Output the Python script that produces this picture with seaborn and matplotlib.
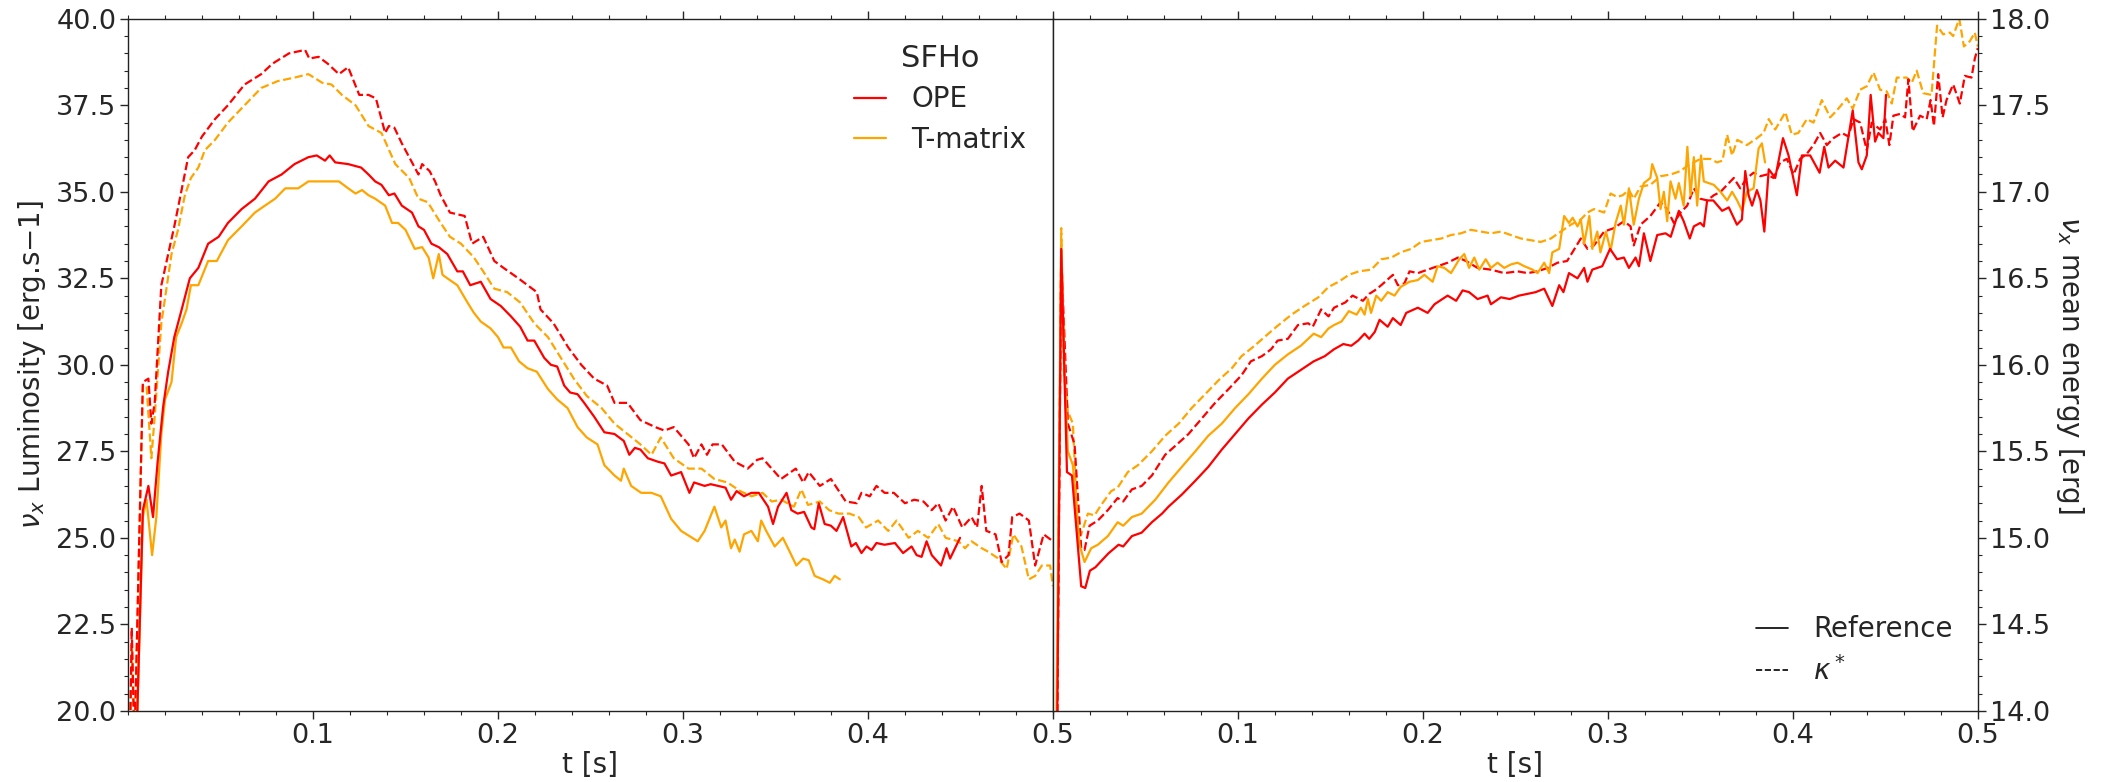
import numpy as np
import pandas as pd
import matplotlib
matplotlib.use("Agg")
import matplotlib.pyplot as plt
from matplotlib.lines import Line2D
from matplotlib.ticker import AutoMinorLocator, FixedLocator
import seaborn as sns

# ---------------- data: left panel (luminosity) ----------------
lum_ope_kappa_t = [0.001, 0.002, 0.0035, 0.008, 0.011, 0.0126, 0.0144, 0.018, 0.0217, 0.025, 0.0325, 0.036, 0.040, 0.047, 0.054, 0.063, 0.072, 0.078, 0.087, 0.0957, 0.098, 0.103, 0.108, 0.114, 0.119, 0.125, 0.130, 0.134, 0.139, 0.141, 0.144, 0.148, 0.152, 0.157, 0.159, 0.163, 0.166, 0.169, 0.174, 0.182, 0.186, 0.192, 0.198, 0.203, 0.211, 0.216, 0.221, 0.223, 0.230, 0.238, 0.245, 0.252, 0.259, 0.263, 0.270, 0.277, 0.285, 0.290, 0.295, 0.303, 0.306, 0.310, 0.313, 0.316, 0.321, 0.328, 0.335, 0.340, 0.343, 0.348, 0.353, 0.361, 0.365, 0.368, 0.374, 0.380, 0.388, 0.394, 0.3965, 0.401, 0.4046, 0.409, 0.414, 0.420, 0.425, 0.430, 0.4345, 0.438, 0.442, 0.446, 0.451, 0.456, 0.459, 0.4615, 0.464, 0.469, 0.4723, 0.476, 0.478, 0.482, 0.487, 0.4904, 0.495, 0.500]
lum_ope_kappa = [19.0, 22.4, 19.0, 29.5, 29.6, 28.3, 28.9, 32.3, 33.2, 34.0, 36.0, 36.2, 36.6, 37.1, 37.5, 38.1, 38.4, 38.7, 39.0, 39.1, 38.85, 38.9, 38.7, 38.4, 38.6, 37.8, 37.8, 37.7, 36.7, 36.9, 36.85, 36.4, 36.0, 35.5, 35.8, 35.6, 35.3, 34.9, 34.4, 34.3, 33.5, 33.7, 33.0, 32.8, 32.5, 32.3, 32.1, 31.6, 31.2, 30.5, 30.0, 29.6, 29.4, 28.9, 28.9, 28.4, 28.2, 28.1, 28.2, 27.7, 27.3, 27.7, 27.4, 27.7, 27.7, 27.2, 27.0, 27.25, 27.3, 27.0, 26.7, 27.0, 26.6, 26.9, 26.5, 26.7, 26.05, 26.0, 26.3, 26.2, 26.5, 26.3, 26.3, 26.0, 26.1, 26.05, 25.8, 26.0, 25.5, 25.9, 25.3, 25.6, 25.3, 26.5, 25.2, 25.1, 24.3, 24.5, 25.6, 25.7, 25.5, 24.2, 25.1, 24.9]

lum_tm_kappa_t = [0.001, 0.002, 0.0035, 0.008, 0.010, 0.0126, 0.0144, 0.018, 0.0235, 0.027, 0.0307, 0.034, 0.038, 0.0415, 0.047, 0.054, 0.063, 0.072, 0.081, 0.090, 0.0975, 0.105, 0.110, 0.1156, 0.123, 0.130, 0.137, 0.1445, 0.152, 0.157, 0.162, 0.169, 0.174, 0.180, 0.187, 0.192, 0.198, 0.205, 0.212, 0.2196, 0.227, 0.234, 0.241, 0.248, 0.256, 0.263, 0.270, 0.277, 0.283, 0.288, 0.295, 0.303, 0.310, 0.317, 0.324, 0.331, 0.337, 0.343, 0.348, 0.353, 0.360, 0.364, 0.3676, 0.374, 0.379, 0.384, 0.390, 0.395, 0.399, 0.4055, 0.411, 0.4155, 0.422, 0.427, 0.4326, 0.438, 0.442, 0.449, 0.4525, 0.456, 0.4615, 0.465, 0.4705, 0.475, 0.4786, 0.483, 0.487, 0.4904, 0.494, 0.4985, 0.500]
lum_tm_kappa = [19.0, 21.9, 19.0, 29.4, 29.4, 27.3, 28.5, 31.2, 33.2, 33.9, 34.9, 35.4, 35.7, 36.2, 36.5, 37.0, 37.5, 38.0, 38.2, 38.3, 38.4, 38.15, 38.1, 37.8, 37.5, 36.9, 36.7, 35.8, 35.4, 34.8, 34.7, 34.1, 33.7, 33.5, 33.1, 32.7, 32.2, 32.1, 31.8, 31.2, 30.8, 30.2, 29.6, 29.1, 28.75, 28.3, 28.0, 27.7, 27.4, 27.9, 27.3, 27.0, 27.0, 26.7, 26.6, 26.35, 26.2, 26.3, 26.05, 26.1, 25.9, 26.4, 25.95, 26.05, 25.8, 25.7, 25.7, 25.6, 25.3, 25.5, 25.2, 25.5, 25.0, 25.2, 25.0, 25.4, 25.0, 24.9, 24.7, 24.9, 24.7, 24.6, 24.4, 24.1, 25.1, 24.75, 23.8, 23.9, 24.2, 24.2, 23.6]

lum_ope_ref_t = [0.004, 0.008, 0.011, 0.0135, 0.016, 0.019, 0.0217, 0.025, 0.029, 0.0334, 0.038, 0.0433, 0.049, 0.054, 0.0614, 0.0686, 0.076, 0.083, 0.090, 0.0975, 0.102, 0.1065, 0.109, 0.112, 0.119, 0.126, 0.130, 0.1336, 0.137, 0.141, 0.144, 0.148, 0.1535, 0.157, 0.160, 0.164, 0.168, 0.1726, 0.178, 0.181, 0.185, 0.1907, 0.196, 0.2015, 0.207, 0.212, 0.216, 0.2196, 0.225, 0.2286, 0.232, 0.2358, 0.239, 0.243, 0.2466, 0.252, 0.2575, 0.263, 0.268, 0.271, 0.274, 0.277, 0.281, 0.2864, 0.290, 0.2936, 0.299, 0.3035, 0.306, 0.3117, 0.315, 0.319, 0.323, 0.326, 0.329, 0.333, 0.337, 0.341, 0.346, 0.3487, 0.3514, 0.356, 0.3586, 0.362, 0.3655, 0.3694, 0.371, 0.3734, 0.3766, 0.380, 0.383, 0.3866, 0.391, 0.3935, 0.3965, 0.3992, 0.402, 0.4046, 0.409, 0.4146, 0.419, 0.4236, 0.4263, 0.429, 0.4317, 0.4345, 0.4395, 0.4425, 0.4444, 0.4498]
lum_ope_ref = [18.0, 25.8, 26.5, 25.6, 27.2, 28.8, 29.8, 30.8, 31.6, 32.5, 32.8, 33.5, 33.7, 34.1, 34.5, 34.8, 35.3, 35.5, 35.8, 36.0, 36.05, 35.9, 36.05, 35.85, 35.8, 35.7, 35.5, 35.3, 35.2, 34.9, 34.95, 34.6, 34.4, 34.0, 33.9, 33.5, 33.4, 33.2, 32.7, 32.7, 32.3, 32.4, 31.9, 31.7, 31.4, 31.1, 30.7, 30.7, 30.2, 30.0, 29.95, 29.4, 29.2, 29.15, 28.9, 28.5, 28.05, 28.0, 27.8, 27.4, 27.6, 27.55, 27.3, 27.2, 27.15, 26.8, 26.9, 26.3, 26.6, 26.5, 26.55, 26.5, 26.45, 26.1, 26.35, 26.2, 26.3, 26.3, 25.9, 25.4, 25.9, 26.3, 25.8, 25.7, 25.75, 25.3, 25.25, 26.0, 25.4, 25.35, 25.2, 25.6, 24.75, 24.85, 24.56, 24.75, 24.65, 24.85, 24.8, 24.85, 24.56, 24.75, 24.5, 24.45, 24.9, 24.5, 24.2, 24.7, 24.4, 25.0]

lum_tm_ref_t = [0.004, 0.008, 0.010, 0.013, 0.0153, 0.018, 0.020, 0.0235, 0.026, 0.029, 0.0316, 0.034, 0.038, 0.0433, 0.048, 0.054, 0.0614, 0.0686, 0.074, 0.0795, 0.085, 0.092, 0.0975, 0.103, 0.108, 0.114, 0.119, 0.123, 0.1265, 0.130, 0.1336, 0.139, 0.1427, 0.146, 0.150, 0.155, 0.159, 0.1625, 0.165, 0.168, 0.170, 0.1726, 0.178, 0.1835, 0.187, 0.1907, 0.196, 0.200, 0.203, 0.207, 0.2114, 0.216, 0.221, 0.227, 0.232, 0.2376, 0.243, 0.248, 0.2538, 0.2575, 0.263, 0.2665, 0.268, 0.272, 0.2774, 0.283, 0.288, 0.2936, 0.299, 0.3035, 0.308, 0.3117, 0.317, 0.3207, 0.323, 0.326, 0.328, 0.3306, 0.333, 0.337, 0.3405, 0.3423, 0.345, 0.3496, 0.354, 0.3577, 0.3613, 0.365, 0.368, 0.3712, 0.3757, 0.3794, 0.382, 0.3848]
lum_tm_ref = [18.0, 25.6, 26.1, 24.5, 25.6, 28.0, 29.0, 29.5, 30.8, 31.2, 31.6, 32.3, 32.3, 33.0, 33.0, 33.6, 34.0, 34.4, 34.6, 34.8, 35.1, 35.1, 35.3, 35.3, 35.3, 35.3, 35.1, 34.95, 35.05, 34.9, 34.8, 34.6, 34.1, 34.1, 33.9, 33.35, 33.4, 33.1, 32.5, 33.2, 32.6, 32.5, 32.3, 31.8, 31.5, 31.25, 31.05, 30.8, 30.5, 30.5, 30.1, 29.9, 29.8, 29.3, 29.0, 28.75, 28.2, 27.9, 27.7, 27.1, 26.8, 26.65, 27.0, 26.5, 26.3, 26.3, 26.2, 25.55, 25.2, 25.05, 24.9, 25.2, 25.9, 25.3, 25.5, 24.7, 24.95, 24.6, 25.1, 25.2, 24.9, 25.5, 25.2, 24.75, 25.0, 24.6, 24.2, 24.4, 24.35, 23.9, 23.8, 23.7, 23.9, 23.8]

# ---------------- data: right panel (mean energy) ----------------
en_ope_ref_t = [0.002, 0.0045, 0.0076, 0.0103, 0.0153, 0.0175, 0.020, 0.023, 0.0256, 0.030, 0.0355, 0.038, 0.0427, 0.048, 0.0535, 0.059, 0.0625, 0.0697, 0.077, 0.084, 0.0913, 0.0985, 0.1057, 0.113, 0.120, 0.127, 0.134, 0.141, 0.147, 0.152, 0.157, 0.1613, 0.165, 0.1685, 0.171, 0.174, 0.1766, 0.181, 0.1838, 0.188, 0.191, 0.1973, 0.2026, 0.2063, 0.2134, 0.218, 0.2215, 0.225, 0.2296, 0.235, 0.2368, 0.2422, 0.247, 0.252, 0.2566, 0.261, 0.2656, 0.2700, 0.2737, 0.276, 0.279, 0.2836, 0.2872, 0.289, 0.2916, 0.297, 0.3012, 0.305, 0.3087, 0.3114, 0.315, 0.3168, 0.3195, 0.323, 0.3267, 0.3312, 0.334, 0.3384, 0.341, 0.3443, 0.3465, 0.350, 0.3519, 0.3537, 0.357, 0.3618, 0.3654, 0.3698, 0.3725, 0.3743, 0.3761, 0.378, 0.3806, 0.3825, 0.3846, 0.387, 0.3905, 0.3947, 0.3977, 0.4022, 0.4049, 0.4094, 0.4145, 0.417, 0.4193, 0.4229, 0.4274, 0.4324, 0.4355, 0.4373, 0.440, 0.4421, 0.4445, 0.4463, 0.449, 0.4504]
en_ope_ref = [13.5, 16.67, 15.38, 15.36, 14.72, 14.71, 14.81, 14.83, 14.86, 14.91, 14.96, 14.95, 15.01, 15.03, 15.09, 15.14, 15.18, 15.25, 15.33, 15.41, 15.51, 15.60, 15.69, 15.77, 15.84, 15.92, 15.97, 16.02, 16.05, 16.09, 16.12, 16.11, 16.14, 16.18, 16.15, 16.19, 16.26, 16.22, 16.27, 16.23, 16.30, 16.33, 16.30, 16.35, 16.40, 16.37, 16.43, 16.42, 16.38, 16.40, 16.35, 16.39, 16.38, 16.40, 16.41, 16.42, 16.44, 16.34, 16.46, 16.42, 16.53, 16.50, 16.56, 16.48, 16.55, 16.57, 16.67, 16.61, 16.62, 16.56, 16.62, 16.57, 16.76, 16.60, 16.75, 16.76, 16.74, 16.89, 16.83, 16.73, 16.80, 16.82, 16.80, 16.95, 16.95, 16.89, 16.91, 16.81, 16.84, 17.12, 16.98, 16.92, 17.01, 16.95, 16.77, 17.13, 17.08, 17.31, 17.21, 16.98, 17.21, 17.21, 17.11, 17.26, 17.14, 17.18, 17.14, 17.47, 17.17, 17.13, 17.21, 17.56, 17.29, 17.34, 17.31, 17.56]

en_ope_kappa_t = [0.002, 0.0045, 0.0081, 0.0117, 0.0153, 0.0171, 0.0198, 0.0243, 0.0297, 0.035, 0.038, 0.0427, 0.048, 0.0535, 0.0607, 0.066, 0.0733, 0.0805, 0.0877, 0.095, 0.102, 0.107, 0.113, 0.118, 0.1215, 0.127, 0.1325, 0.138, 0.1405, 0.145, 0.149, 0.152, 0.158, 0.162, 0.1676, 0.171, 0.174, 0.1775, 0.1838, 0.1865, 0.190, 0.1928, 0.1973, 0.2026, 0.208, 0.2134, 0.219, 0.2233, 0.2296, 0.2368, 0.244, 0.2512, 0.2566, 0.262, 0.2674, 0.2728, 0.278, 0.2854, 0.289, 0.2925, 0.298, 0.3033, 0.3087, 0.3123, 0.314, 0.3177, 0.323, 0.3285, 0.332, 0.3357, 0.3393, 0.3429, 0.3465, 0.350, 0.3537, 0.3573, 0.361, 0.3645, 0.3681, 0.3716, 0.3752, 0.3788, 0.3824, 0.386, 0.3896, 0.3932, 0.3968, 0.4004, 0.404, 0.4076, 0.4112, 0.4148, 0.4184, 0.422, 0.4265, 0.430, 0.4328, 0.4364, 0.440, 0.4427, 0.4472, 0.450, 0.4522, 0.4544, 0.458, 0.4607, 0.4625, 0.4648, 0.4688, 0.4724, 0.4745, 0.4763, 0.4786, 0.481, 0.4831, 0.4867, 0.4903, 0.493, 0.4966, 0.4984, 0.500]
en_ope_kappa = [13.5, 16.63, 15.66, 15.54, 14.94, 14.93, 15.07, 15.10, 15.16, 15.23, 15.21, 15.28, 15.30, 15.36, 15.48, 15.53, 15.60, 15.69, 15.78, 15.86, 15.94, 16.02, 16.05, 16.09, 16.14, 16.15, 16.23, 16.24, 16.22, 16.32, 16.28, 16.33, 16.36, 16.40, 16.37, 16.41, 16.43, 16.46, 16.52, 16.46, 16.47, 16.54, 16.53, 16.55, 16.57, 16.59, 16.62, 16.60, 16.56, 16.55, 16.53, 16.54, 16.53, 16.54, 16.56, 16.59, 16.60, 16.73, 16.67, 16.69, 16.77, 16.79, 16.83, 16.80, 16.69, 16.81, 16.86, 16.94, 16.90, 16.82, 16.88, 16.92, 17.02, 16.96, 16.95, 16.98, 17.00, 17.04, 17.08, 17.02, 17.08, 17.11, 17.09, 17.10, 17.08, 17.17, 17.19, 17.10, 17.19, 17.22, 17.27, 17.34, 17.27, 17.31, 17.34, 17.32, 17.42, 17.40, 17.24, 17.40, 17.36, 17.42, 17.27, 17.44, 17.45, 17.43, 17.65, 17.35, 17.44, 17.42, 17.53, 17.38, 17.68, 17.43, 17.53, 17.62, 17.51, 17.67, 17.66, 17.77, 17.83]

en_tm_ref_t = [0.0015, 0.0045, 0.0063, 0.0081, 0.0108, 0.0144, 0.0171, 0.0207, 0.0243, 0.0297, 0.035, 0.038, 0.0427, 0.048, 0.0553, 0.0625, 0.0697, 0.077, 0.084, 0.0913, 0.0985, 0.1057, 0.113, 0.120, 0.127, 0.134, 0.141, 0.145, 0.149, 0.152, 0.156, 0.160, 0.1642, 0.1665, 0.1685, 0.1703, 0.172, 0.1748, 0.1775, 0.181, 0.1847, 0.188, 0.1928, 0.1973, 0.2008, 0.2053, 0.208, 0.2116, 0.2152, 0.2197, 0.2224, 0.225, 0.2278, 0.2305, 0.234, 0.2368, 0.2404, 0.244, 0.2476, 0.2512, 0.2548, 0.2593, 0.262, 0.2656, 0.2683, 0.270, 0.2737, 0.2764, 0.279, 0.281, 0.2836, 0.2854, 0.2872, 0.290, 0.2916, 0.2943, 0.296, 0.299, 0.3015, 0.3042, 0.307, 0.3087, 0.3114, 0.314, 0.3168, 0.3195, 0.323, 0.324, 0.3267, 0.3285, 0.3303, 0.3321, 0.3339, 0.3366, 0.3384, 0.341, 0.343, 0.3447, 0.3465, 0.3483, 0.3504, 0.3519, 0.3573, 0.3609, 0.3645, 0.3672, 0.3699, 0.3726, 0.3752, 0.3788, 0.3815, 0.3833, 0.385]
en_tm_ref = [13.5, 16.72, 15.95, 15.50, 15.42, 14.96, 14.86, 14.94, 14.96, 15.01, 15.09, 15.07, 15.12, 15.14, 15.22, 15.32, 15.41, 15.50, 15.59, 15.66, 15.75, 15.83, 15.92, 16.00, 16.06, 16.11, 16.18, 16.16, 16.21, 16.23, 16.25, 16.31, 16.29, 16.33, 16.29, 16.38, 16.30, 16.40, 16.37, 16.42, 16.40, 16.45, 16.48, 16.49, 16.52, 16.48, 16.57, 16.56, 16.53, 16.61, 16.64, 16.56, 16.62, 16.55, 16.61, 16.56, 16.59, 16.56, 16.58, 16.59, 16.57, 16.55, 16.53, 16.59, 16.53, 16.65, 16.67, 16.86, 16.82, 16.85, 16.80, 16.84, 16.70, 16.86, 16.67, 16.77, 16.65, 16.77, 16.66, 16.82, 16.92, 16.81, 17.02, 16.81, 16.96, 17.05, 17.08, 17.16, 17.08, 16.90, 17.00, 16.83, 17.06, 16.96, 17.05, 16.92, 17.26, 16.98, 17.20, 16.92, 17.21, 17.06, 17.04, 17.00, 16.95, 17.00, 16.95, 16.89, 17.00, 17.02, 17.25, 17.28, 17.17]

en_tm_kappa_t = [0.002, 0.0045, 0.006, 0.0081, 0.0108, 0.0135, 0.0153, 0.0189, 0.0225, 0.0261, 0.0315, 0.035, 0.0405, 0.046, 0.0535, 0.0607, 0.068, 0.075, 0.0823, 0.0895, 0.0967, 0.102, 0.109, 0.1165, 0.122, 0.129, 0.136, 0.1435, 0.149, 0.1545, 0.160, 0.1653, 0.1721, 0.1775, 0.183, 0.188, 0.1937, 0.199, 0.2045, 0.210, 0.2152, 0.2206, 0.226, 0.2314, 0.2368, 0.2422, 0.2476, 0.253, 0.2584, 0.2638, 0.2692, 0.2746, 0.280, 0.2854, 0.289, 0.2925, 0.298, 0.3015, 0.305, 0.308, 0.3114, 0.314, 0.3177, 0.323, 0.3285, 0.334, 0.3393, 0.343, 0.3465, 0.350, 0.3555, 0.359, 0.362, 0.3645, 0.3672, 0.370, 0.3752, 0.3806, 0.3842, 0.387, 0.3905, 0.396, 0.3995, 0.403, 0.4076, 0.4112, 0.4157, 0.4202, 0.4238, 0.4292, 0.4324, 0.4364, 0.440, 0.4436, 0.4472, 0.4508, 0.4535, 0.4562, 0.4616, 0.4643, 0.467, 0.4705, 0.475, 0.478, 0.4813, 0.4849, 0.4867, 0.490, 0.4925, 0.4957, 0.4984, 0.500]
en_tm_kappa = [13.5, 16.79, 15.95, 15.73, 15.66, 15.03, 15.02, 15.14, 15.13, 15.19, 15.27, 15.29, 15.38, 15.42, 15.50, 15.59, 15.66, 15.75, 15.83, 15.91, 15.98, 16.05, 16.11, 16.18, 16.23, 16.29, 16.34, 16.39, 16.45, 16.48, 16.52, 16.54, 16.55, 16.61, 16.62, 16.65, 16.67, 16.71, 16.72, 16.73, 16.75, 16.76, 16.78, 16.77, 16.76, 16.77, 16.75, 16.73, 16.72, 16.71, 16.73, 16.77, 16.81, 16.84, 16.88, 16.90, 16.88, 16.99, 16.97, 16.98, 17.01, 16.96, 17.03, 17.04, 17.09, 17.10, 17.12, 17.15, 17.17, 17.19, 17.19, 17.17, 17.18, 17.33, 17.21, 17.30, 17.27, 17.31, 17.34, 17.42, 17.36, 17.46, 17.33, 17.34, 17.42, 17.40, 17.53, 17.43, 17.47, 17.54, 17.48, 17.59, 17.61, 17.69, 17.59, 17.58, 17.51, 17.66, 17.66, 17.63, 17.70, 17.57, 17.56, 17.96, 17.91, 17.92, 17.90, 18.0, 17.84, 17.87, 17.92, 17.84]

x_ticks = [0.1, 0.2, 0.3, 0.4, 0.5]
x_ticklabels = ["0.1", "0.2", "0.3", "0.4", "0.5"]
lum_ticks = [20, 22.5, 25, 27.5, 30, 32.5, 35, 37.5, 40]
en_ticks = [14, 14.5, 15, 15.5, 16, 16.5, 17, 17.5, 18]
eos_names = ["OPE", "T-matrix"]
method_names = ["Reference", r"$\kappa^*$"]

# ---------------- style ----------------
sns.set_style("ticks")
plt.rcParams["font.family"] = ["DejaVu Sans"]
plt.rcParams["mathtext.fontset"] = "dejavusans"
FS_TICK = 19.5
FS_LAB = 20
FS_LEG = 20
colors = {"OPE": "red", "T-matrix": "orange"}
LW = 1.6

fig, (axL, axR) = plt.subplots(1, 2, figsize=(21.13, 7.82), dpi=100)
fig.subplots_adjust(left=0.0606, right=0.936, top=0.976, bottom=0.091, wspace=0)

def draw(ax, t, v, color, ls):
    df = pd.DataFrame({"t": t, "v": v})
    sns.lineplot(data=df, x="t", y="v", ax=ax, color=color, linestyle=ls,
                 linewidth=LW, sort=False, estimator=None, legend=False)

draw(axL, lum_tm_kappa_t, lum_tm_kappa, colors["T-matrix"], "--")
draw(axL, lum_ope_kappa_t, lum_ope_kappa, colors["OPE"], "--")
draw(axL, lum_tm_ref_t, lum_tm_ref, colors["T-matrix"], "-")
draw(axL, lum_ope_ref_t, lum_ope_ref, colors["OPE"], "-")

draw(axR, en_tm_kappa_t, en_tm_kappa, colors["T-matrix"], "--")
draw(axR, en_ope_kappa_t, en_ope_kappa, colors["OPE"], "--")
draw(axR, en_tm_ref_t, en_tm_ref, colors["T-matrix"], "-")
draw(axR, en_ope_ref_t, en_ope_ref, colors["OPE"], "-")

for ax in (axL, axR):
    ax.set_xlim(0, 0.5)
    ax.xaxis.set_major_locator(FixedLocator(x_ticks))
    ax.set_xticklabels(x_ticklabels)
    ax.xaxis.set_minor_locator(AutoMinorLocator(5))
    ax.set_xlabel("t [s]", fontsize=FS_LAB, labelpad=2)
    ax.tick_params(axis="both", which="major", labelsize=FS_TICK, length=5.5, width=1, direction="out", pad=3)
    ax.tick_params(axis="both", which="minor", length=2.8, width=0.8, direction="out")
    ax.tick_params(axis="x", which="both", top=True)
    for s in ax.spines.values():
        s.set_visible(True)
        s.set_linewidth(1.0)
        s.set_color("#222222")

axL.set_ylim(20, 40)
axL.set_yticks(lum_ticks)
axL.set_yticklabels([f"{v:.1f}" for v in lum_ticks])
axL.yaxis.set_minor_locator(AutoMinorLocator(5))
axL.tick_params(axis="y", which="both", left=True, right=False)
axL.set_ylabel(r"$\nu_x$ Luminosity [erg.s$-$1]", fontsize=FS_LAB, labelpad=6)

axR.set_ylim(14, 18)
axR.set_yticks(en_ticks)
axR.set_yticklabels([f"{v:.1f}" for v in en_ticks])
axR.yaxis.set_minor_locator(AutoMinorLocator(5))
axR.yaxis.tick_right()
axR.yaxis.set_label_position("right")
axR.tick_params(axis="y", which="both", left=False, right=True)
axR.set_ylabel(r"$\nu_x$ mean energy [erg]", fontsize=FS_LAB, rotation=270, labelpad=26)

# legends
h1 = [Line2D([], [], color=colors[n], lw=LW) for n in eos_names]
axL.legend(h1, eos_names, title="SFHo", loc="upper right",
           bbox_to_anchor=(0.998, 1.0), frameon=False, fontsize=FS_LEG,
           title_fontsize=22, handletextpad=0.9, handlelength=1.15,
           labelspacing=0.45)

h2 = [Line2D([], [], color="black", lw=1.2, ls="-"),
      Line2D([], [], color="black", lw=1.2, ls="--")]
axR.legend(h2, method_names, loc="lower right", bbox_to_anchor=(1.0, 0.0),
           frameon=False, fontsize=FS_LEG, handletextpad=0.9,
           handlelength=1.15, labelspacing=0.45)

fig.savefig("out.png", dpi=100)
